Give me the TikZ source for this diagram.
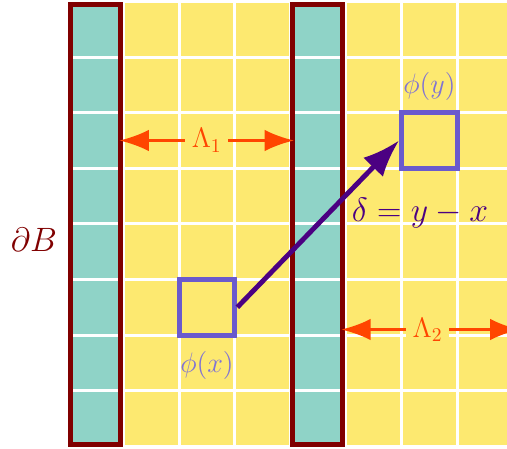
\documentclass[tikz,border=0pt]{standalone}
\usepackage{amsmath,amssymb}
\usepackage{xcolor}
\usepackage{tikz}
\usetikzlibrary{arrows.meta,positioning}

\definecolor{cellyellow}{RGB}{253,233,112}
\definecolor{wallteal}{RGB}{143,211,199}
\definecolor{wallred}{RGB}{128,0,0}
\definecolor{gapred}{RGB}{255,69,0}
\definecolor{siteblue}{RGB}{106,90,205}
\definecolor{jumpcol}{RGB}{75,0,130}

\begin{document}
\begin{tikzpicture}[
  cell/.style={draw=white,line width=1.5pt},
  wall/.style={rectangle,draw=wallred,line width=2.6pt,inner sep=0pt,minimum width=0.9cm,minimum height=7.9cm},
  site/.style={rectangle,draw=siteblue,line width=2.6pt,inner sep=0pt,minimum size=1cm},
  sitelabel/.style={text=siteblue!85!white,font=\Large},
  gap/.style={{Latex[length=15pt,width=11pt]}-{Latex[length=15pt,width=11pt]},draw=gapred,line width=1.4pt,shorten <=-2pt,shorten >=-2pt},
  gaplabel/.style={fill=cellyellow,text=gapred,font=\Large},
  jump/.style={-{Latex[length=19pt,width=14pt]},draw=jumpcol,line width=2.5pt},
  jumplabel/.style={text=jumpcol,font=\LARGE,anchor=west}
]
\useasboundingbox (-1.223,-0.045) rectangle (7.896,8.027);
% lattice
\foreach \i in {0,...,7}
  \foreach \j in {0,...,7}
    \filldraw[cell,fill=cellyellow] (\i,\j) rectangle ++(1,1);
\foreach \i in {0,4}
  \foreach \j in {0,...,7}
    \filldraw[cell,fill=wallteal] (\i,\j) rectangle ++(1,1);
% boundary columns
\node[wall] (wallL) at (0.5,3.99) {};
\node[wall] (wallR) at (4.49,3.99) {};
\coordinate (levb) at (0,3.72);
\node[text=wallred,font=\LARGE,anchor=east] (bd) at ([xshift=-0.08cm]wallL.west |- levb) {$\partial B$};
% sites
\node[site] (sqx) at (2.5,2.5) {};
\node[site] (sqy) at (6.5,5.5) {};
\node[sitelabel,below=0.12cm of sqx] (lx) {$\phi(x)$};
\node[sitelabel,above=0.05cm of sqy] (ly) {$\phi(y)$};
% distances
\coordinate (lev1) at (0,5.5);
\coordinate (lev2) at (0,2.1);
\coordinate (rim) at (8.05,2.1);
\draw[gap] (wallL.east |- lev1) -- node[gaplabel] (gap1) {$\Lambda_1$} (wallR.west |- lev1);
\draw[gap] (wallR.east |- lev2) -- node[gaplabel,xshift=-0.05cm] (gap2) {$\Lambda_2$} (rim);
\draw[jump] (sqx.east) -- (sqy.west);
\node[jumplabel] (dl) at (4.98,4.2) {$\delta = y - x$};
\end{tikzpicture}
\end{document}
